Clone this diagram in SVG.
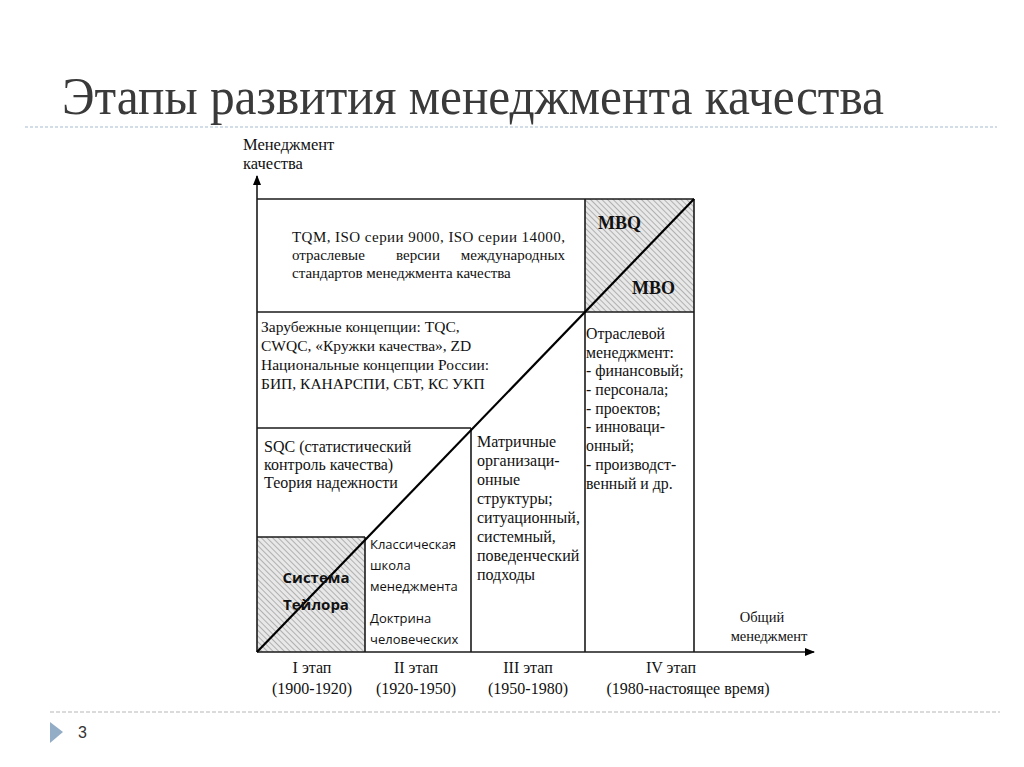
<svg xmlns="http://www.w3.org/2000/svg" width="1024" height="767" viewBox="0 0 1024 767">
<defs>
<pattern id="hatch" patternUnits="userSpaceOnUse" width="4" height="4" patternTransform="rotate(-45)">
<rect width="4" height="4" fill="#e8e8e8"/>
<line x1="0" y1="0" x2="0" y2="4" stroke="#929292" stroke-width="1.3"/>
</pattern>
<marker id="arr" markerWidth="10" markerHeight="8" refX="9" refY="4" orient="auto" markerUnits="userSpaceOnUse">
<path d="M0,0 L10,4 L0,8 Z" fill="#000"/>
</marker>
<style>
.ln{stroke:#1a1a1a;stroke-width:1.6;fill:none}
.s{font-family:"Liberation Serif",serif;fill:#111}
.f{font-family:"Open Sans","Liberation Sans",sans-serif;fill:#111}
</style>
</defs>
<rect width="1024" height="767" fill="#fff"/>
<g id="title">
<text x="62" y="114" font-family="Liberation Serif,serif" font-size="53" fill="#3a3a3a" textLength="822" lengthAdjust="spacingAndGlyphs">Этапы развития менеджмента качества</text>
<line x1="25" y1="127" x2="997" y2="127" stroke="#a8bccf" stroke-width="1.2" stroke-dasharray="3,2"/>
</g>
<g id="footer">
<line x1="50" y1="712" x2="1000" y2="712" stroke="#b8b8b8" stroke-width="1.2" stroke-dasharray="4,2"/>
<path d="M50,722 L63,732 L50,743 Z" fill="#94adc6"/>
<text x="78" y="738" font-family="Liberation Sans,sans-serif" font-size="16" fill="#333">3</text>
</g>
<g id="hatched">
<rect x="585" y="199" width="109" height="113" fill="url(#hatch)"/>
<rect x="257" y="537" width="108" height="115" fill="url(#hatch)"/>
</g>
<g id="connectors">
<line class="ln" x1="257" y1="652" x2="257" y2="176" marker-end="url(#arr)"/>
<line class="ln" x1="257" y1="652" x2="814" y2="652" marker-end="url(#arr)"/>
<line class="ln" x1="257" y1="199" x2="694" y2="199"/>
<line class="ln" x1="257" y1="312" x2="694" y2="312"/>
<line class="ln" x1="257" y1="428" x2="471" y2="428"/>
<line class="ln" x1="257" y1="537" x2="365" y2="537"/>
<line class="ln" x1="365" y1="537" x2="365" y2="652"/>
<line class="ln" x1="471" y1="428" x2="471" y2="652"/>
<line class="ln" x1="585" y1="199" x2="585" y2="652"/>
<line class="ln" x1="694" y1="199" x2="694" y2="652"/>
<line x1="257" y1="652" x2="694" y2="199" stroke="#000" stroke-width="2.2"/>
</g>
<g id="axis-y-label" class="s" font-size="16.5">
<text x="243" y="150">Менеджмент</text>
<text x="243" y="169">качества</text>
</g>
<g id="axis-x-label" class="s" font-size="14.5">
<text x="762" y="622" text-anchor="middle">Общий</text>
<text x="769" y="641" text-anchor="middle">менеджмент</text>
</g>
<g id="node-tqm" class="s" font-size="15">
<text x="292" y="242" textLength="273" lengthAdjust="spacing">TQM, ISO серии 9000, ISO серии 14000,</text>
<text x="292" y="260">отраслевые</text>
<text x="418" y="260" text-anchor="middle">версии</text>
<text x="565" y="260" text-anchor="end">международных</text>
<text x="292" y="278">стандартов менеджмента качества</text>
</g>
<g id="node-mbq" class="s" font-size="18" font-weight="bold">
<text x="598" y="229">MBQ</text>
<text x="632" y="294">MBO</text>
</g>
<g id="node-foreign" class="s" font-size="15.5">
<text x="261" y="332">Зарубежные концепции: TQC,</text>
<text x="261" y="351">CWQC, «Кружки качества», ZD</text>
<text x="261" y="370">Национальные концепции России:</text>
<text x="261" y="389">БИП, КАНАРСПИ, СБТ, КС УКП</text>
</g>
<g id="node-sqc" class="s" font-size="16">
<text x="264" y="452">SQC (статистический</text>
<text x="264" y="470">контроль качества)</text>
<text x="264" y="488">Теория надежности</text>
</g>
<g id="node-matrix" class="s" font-size="16">
<text x="477" y="447">Матричные</text>
<text x="477" y="466">организаци-</text>
<text x="477" y="485">онные</text>
<text x="477" y="504">структуры;</text>
<text x="477" y="523">ситуационный,</text>
<text x="477" y="542">системный,</text>
<text x="477" y="561">поведенческий</text>
<text x="477" y="580">подходы</text>
</g>
<g id="node-branch" class="s" font-size="15.8">
<text x="586" y="339">Отраслевой</text>
<text x="586" y="358">менеджмент:</text>
<text x="586" y="376">- финансовый;</text>
<text x="586" y="395">- персонала;</text>
<text x="586" y="414">- проектов;</text>
<text x="586" y="432">- инноваци-</text>
<text x="586" y="451">онный;</text>
<text x="586" y="470">- производст-</text>
<text x="586" y="489">венный и др.</text>
</g>
<g id="node-classic" class="f" font-size="13">
<text x="370" y="549">Классическая</text>
<text x="370" y="570">школа</text>
<text x="370" y="591">менеджмента</text>
<text x="370" y="623">Доктрина</text>
<text x="370" y="644">человеческих</text>
</g>
<g id="node-taylor" class="f" font-size="15" font-weight="bold">
<text x="316" y="583" text-anchor="middle">Система</text>
<text x="316" y="610" text-anchor="middle">Тейлора</text>
</g>
<g id="stages" class="s" font-size="16" text-anchor="middle">
<text x="312" y="673">I этап</text>
<text x="312" y="694">(1900-1920)</text>
<text x="416" y="673">II этап</text>
<text x="416" y="694">(1920-1950)</text>
<text x="528" y="673">III этап</text>
<text x="528" y="694">(1950-1980)</text>
<text x="671" y="673">IV этап</text>
<text x="688" y="694">(1980-настоящее время)</text>
</g>
</svg>
